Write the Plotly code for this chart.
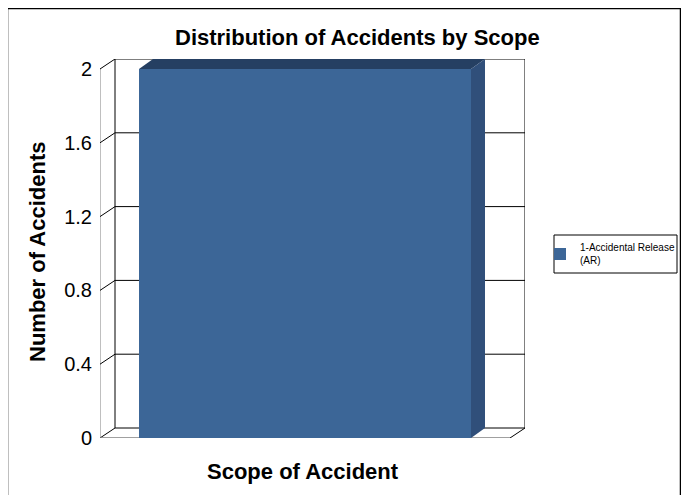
import plotly.graph_objects as go

# ---- data ----
series_name = "1-Accidental Release (AR)"
categories = [0]
values = [2]
y_tickvals = [0, 0.4, 0.8, 1.2, 1.6, 2]
y_ticktext = ["0", "0.4", "0.8", "1.2", "1.6", "2"]
title_text = "Distribution of Accidents by Scope"
x_title = "Scope of Accident"
y_title = "Number of Accidents"

# ---- layout geometry (pixels, page coordinates; page body has an 8px margin) ----
OFF = 8
W_FIG, H_FIG = 689 - 2 * OFF, 495 - OFF
L, R, T, B = 100 - OFF, 525 - OFF, 59 - OFF, 438 - OFF   # plot area in figure px
PW, PH = R - L, B - T
BAR_W = 0.8
X_SCALE = 415.0                    # px per x unit
X_MIN = -(305 - OFF - L) / X_SCALE
X_MAX = X_MIN + PW / X_SCALE
Y_SCALE = (438 - 69) / 2.0         # px per y unit
Y_MAX = PH / Y_SCALE
DXW, DYW = 15 / X_SCALE, 10 / Y_SCALE   # wall depth
DXB = 14 / X_SCALE                      # bar depth

FRONT = "#3C6697"
TOP = "#253F62"
SIDE = "#304F7A"
FONT = "Liberation Sans, Arial, sans-serif"


def px_x(px):
    """page px -> paper x"""
    return (px - OFF - L) / PW


def px_y(py):
    """page px -> paper y"""
    return (B - (py - OFF)) / PH


fig = go.Figure()
fig.add_trace(go.Bar(
    x=categories, y=values, width=BAR_W,
    marker=dict(color=FRONT, line=dict(width=0)),
    name=series_name.replace(" (AR)", "<br>(AR)"),
    showlegend=True,
))

shapes = []
line_k = dict(color="#000000", width=1)
x_front_l = X_MIN
x_back_l = X_MIN + DXW
x_back_r = X_MAX
# left wall front edge (gray)
shapes.append(dict(type="line", xref="x", yref="y", x0=x_front_l, x1=x_front_l,
                   y0=0, y1=max(y_tickvals), line=dict(color="#808080", width=1),
                   layer="below"))
# back wall gridlines + left wall diagonals
for v in y_tickvals:
    shapes.append(dict(type="line", xref="x", yref="y", x0=x_back_l, x1=x_back_r,
                       y0=v + DYW, y1=v + DYW, line=line_k, layer="below"))
    shapes.append(dict(type="line", xref="x", yref="y", x0=x_front_l, x1=x_back_l,
                       y0=v, y1=v + DYW, line=line_k, layer="below"))
# back wall verticals
for xv in (x_back_l, x_back_r):
    shapes.append(dict(type="line", xref="x", yref="y", x0=xv, x1=xv,
                       y0=DYW, y1=max(y_tickvals) + DYW, line=line_k, layer="below"))
# floor front edge and right diagonal
shapes.append(dict(type="line", xref="x", yref="y", x0=x_front_l, x1=x_back_r - DXW,
                   y0=0, y1=0, line=dict(color="#808080", width=1.5), layer="below"))
shapes.append(dict(type="line", xref="x", yref="y", x0=x_back_r - DXW, x1=x_back_r,
                   y0=0, y1=DYW, line=line_k, layer="below"))

# 3D faces of the bar, derived from its value
for c, v in zip(categories, values):
    xl, xr = c - BAR_W / 2, c + BAR_W / 2
    top_path = f"M{xl},{v} L{xr},{v} L{xr + DXB},{v + DYW} L{xl + DXB},{v + DYW} Z"
    side_path = f"M{xr},0 L{xr},{v} L{xr + DXB},{v + DYW} L{xr + DXB},{DYW} Z"
    shapes.append(dict(type="path", xref="x", yref="y", path=top_path,
                       fillcolor=TOP, line=dict(width=0), layer="above"))
    shapes.append(dict(type="path", xref="x", yref="y", path=side_path,
                       fillcolor=SIDE, line=dict(width=0), layer="above"))

# outer chart border
shapes.append(dict(type="rect", xref="paper", yref="paper",
                   x0=px_x(7.5), x1=px_x(680.5), y0=px_y(520), y1=px_y(8.5),
                   line=dict(color="#000000", width=1.5), fillcolor="rgba(0,0,0,0)"))
# legend box
shapes.append(dict(type="rect", xref="paper", yref="paper",
                   x0=px_x(554), x1=px_x(677), y0=px_y(273), y1=px_y(235),
                   line=dict(color="#000000", width=1), fillcolor="rgba(0,0,0,0)"))

annotations = [
    dict(text=f"<b>{title_text}</b>", xref="paper", yref="paper",
         x=px_x(357), y=px_y(37), showarrow=False,
         xanchor="center", yanchor="middle",
         font=dict(size=22, color="#000000", family=FONT)),
    dict(text=f"<b>{x_title}</b>", xref="paper", yref="paper",
         x=px_x(303), y=px_y(471), showarrow=False,
         xanchor="center", yanchor="middle",
         font=dict(size=22, color="#000000", family=FONT)),
    dict(text=f"<b>{y_title}</b>", xref="paper", yref="paper",
         x=px_x(37), y=px_y(252), showarrow=False, textangle=-90,
         xanchor="center", yanchor="middle",
         font=dict(size=22, color="#000000", family=FONT)),
]

fig.update_layout(
    width=W_FIG, height=H_FIG,
    margin=dict(l=L, r=W_FIG - R, t=T, b=H_FIG - B, pad=0, autoexpand=False),
    paper_bgcolor="#FFFFFF", plot_bgcolor="rgba(0,0,0,0)",
    font=dict(family=FONT, color="#000000"),
    xaxis=dict(range=[X_MIN, X_MAX], showgrid=False, zeroline=False,
               showticklabels=False, showline=False, ticks=""),
    yaxis=dict(range=[0, Y_MAX], tickvals=y_tickvals, ticktext=y_ticktext,
               showgrid=False, zeroline=False, showline=False, ticks="",
               ticklabelstandoff=7,
               tickfont=dict(size=20, family=FONT, color="#000000")),
    shapes=shapes,
    annotations=annotations,
    showlegend=True,
    legend=dict(x=px_x(540), y=px_y(254), xanchor="left", yanchor="middle",
                bgcolor="rgba(0,0,0,0)", borderwidth=0,
                font=dict(size=10, family=FONT, color="#000000")),
)

fig.write_html("out.html")
